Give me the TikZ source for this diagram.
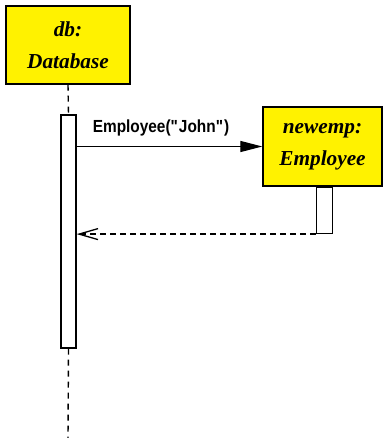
\documentclass[tikz,border=0pt]{standalone}
\usepackage{fontspec}
\setmainfont{Liberation Serif}
\setsansfont{Liberation Sans}
\newfontfamily\msgfont[FakeStretch=0.88]{Liberation Sans}
\usetikzlibrary{positioning, arrows.meta}

\tikzset{
  object/.style={draw=black, fill=yellow, line width=1.4pt, align=center, inner sep=0pt,
    font=\fontsize{21.3}{32}\selectfont\bfseries\itshape},
  activation/.style={draw=black, fill=white, line width=1.4pt, inner sep=0pt},
  lifeline/.style={line width=1.4pt, dash pattern=on 6pt off 5pt},
  call/.style={line width=1.3pt, -{Triangle[length=22pt, width=11pt]}},
  reply/.style={line width=1.3pt, dash pattern=on 6pt off 4pt, -{Straight Barb[length=19pt, width=11pt]}},
  msg/.style={font=\fontsize{17.5}{20}\selectfont\msgfont\bfseries, inner sep=0pt}
}

\begin{document}
\begin{tikzpicture}[x=1pt, y=-1pt]
  \useasboundingbox (0,0) rectangle (383,438);
  % objects
  \node[object, minimum width=124pt, minimum height=78pt] (db) at (68,45) {db:\\Database};
  \node[object, minimum width=119pt, minimum height=79pt] (newemp) at (322.5,146.5) {newemp:\\Employee};
  % activations
  \node[activation, minimum width=15pt, minimum height=233pt] (dbact) at (68.5,231.5) {};
  \node[activation, minimum width=16pt, minimum height=46pt, below=0pt of newemp.south, xshift=2pt] (newact) {};
  \coordinate (dbend) at (68,438);
  % lifelines
  \draw[lifeline] (db.south) -- (dbact.north);
  \draw[lifeline] (dbact.south) -- (dbend);
  % messages
  \draw[call] (dbact.east |- newemp.west) -- (newemp.west);
  \node[msg, anchor=base] (msglabel) at (161,132.5) {Employee(\textquotedbl John\textquotedbl)};
  \draw[reply] (newact.south west) -- (dbact.east |- newact.south west);
\end{tikzpicture}
\end{document}
